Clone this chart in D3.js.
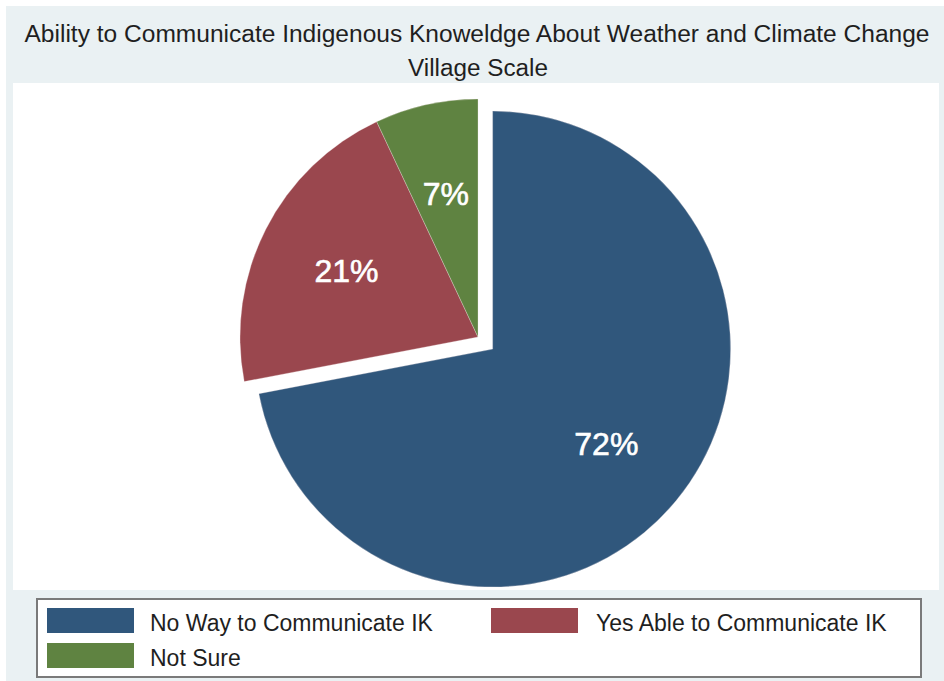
<!DOCTYPE html>
<html>
<head>
<meta charset="utf-8">
<script src="https://cdn.jsdelivr.net/npm/d3@7/dist/d3.min.js"></script>
<style>
  html, body { margin: 0; padding: 0; background: #ffffff; }
  svg { display: block; font-family: "Liberation Sans", Arial, Helvetica, sans-serif; }
</style>
</head>
<body>
<svg id="chart" width="944" height="681"></svg>
<script>
// Data
const categories = ["No Way to Communicate IK", "Yes Able to Communicate IK", "Not Sure"];
const shares = [72, 21, 7];
const sliceColors = ["#30577c", "#9a474e", "#5f8341"];
const explodedIndex = 0;
const titleLines = [
  "Ability to Communicate Indigenous Knoweldge About Weather and Climate Change",
  "Village Scale"
];

const W = 944, H = 681;
const svg = d3.select("#chart");

// Outer graph region and white plot region
svg.append("rect").attr("x", 6).attr("y", 6).attr("width", W - 6).attr("height", H - 6)
  .attr("fill", "#eaf1f3");
svg.append("rect").attr("x", 13).attr("y", 83).attr("width", 926).attr("height", 507)
  .attr("fill", "#ffffff");

// Titles
svg.append("text").attr("x", 477).attr("y", 42)
  .attr("text-anchor", "middle").attr("font-size", 23.5).attr("fill", "#1f1f1f")
  .attr("textLength", 905).attr("lengthAdjust", "spacingAndGlyphs")
  .text(titleLines[0]);
svg.append("text").attr("x", 478).attr("y", 76)
  .attr("text-anchor", "middle").attr("font-size", 23.5).attr("fill", "#1f1f1f")
  .attr("textLength", 140).attr("lengthAdjust", "spacingAndGlyphs")
  .text(titleLines[1]);

// Pie
const cx = 478, cy = 337, r = 238, explode = 19;
const pie = d3.pie().sort(null).value(d => d);
const arcs = pie(shares);
const arc = d3.arc().innerRadius(0).outerRadius(r);
const labelArc = d3.arc().innerRadius(r * 0.62).outerRadius(r * 0.62);

const g = svg.append("g").attr("transform", `translate(${cx},${cy})`);

function offset(d, i) {
  if (i !== explodedIndex) return [0, 0];
  const a = (d.startAngle + d.endAngle) / 2;
  return [Math.sin(a) * explode, -Math.cos(a) * explode];
}

const slices = g.selectAll("g.slice").data(arcs).join("g")
  .attr("class", "slice")
  .attr("transform", (d, i) => { const o = offset(d, i); return `translate(${o[0]},${o[1]})`; });

slices.append("path")
  .attr("d", arc)
  .attr("fill", (d, i) => sliceColors[i])
  .attr("stroke", "#f4e6e6").attr("stroke-width", 0.5).attr("stroke-opacity", 0.6);

slices.append("text")
  .attr("transform", d => `translate(${labelArc.centroid(d)})`)
  .attr("text-anchor", "middle").attr("dy", "0.36em")
  .attr("font-size", 32).attr("fill", "#ffffff")
  .attr("stroke", "#ffffff").attr("stroke-width", 0.6)
  .text(d => d.data + "%");

// Legend
svg.append("rect").attr("x", 37).attr("y", 599).attr("width", 884).attr("height", 78)
  .attr("fill", "#ffffff").attr("stroke", "#7a7a7a").attr("stroke-width", 2);

const legendPos = [
  { sx: 47, sy: 608, tx: 150, ty: 631 },
  { sx: 491, sy: 608, tx: 596, ty: 631 },
  { sx: 47, sy: 643, tx: 150, ty: 666 }
];
const leg = svg.selectAll("g.leg").data(categories).join("g").attr("class", "leg");
leg.append("rect")
  .attr("x", (d, i) => legendPos[i].sx).attr("y", (d, i) => legendPos[i].sy)
  .attr("width", 87).attr("height", 25)
  .attr("fill", (d, i) => sliceColors[i]);
leg.append("text")
  .attr("x", (d, i) => legendPos[i].tx).attr("y", (d, i) => legendPos[i].ty)
  .attr("font-size", 23).attr("fill", "#1f1f1f")
  .text(d => d);
</script>
</body>
</html>
